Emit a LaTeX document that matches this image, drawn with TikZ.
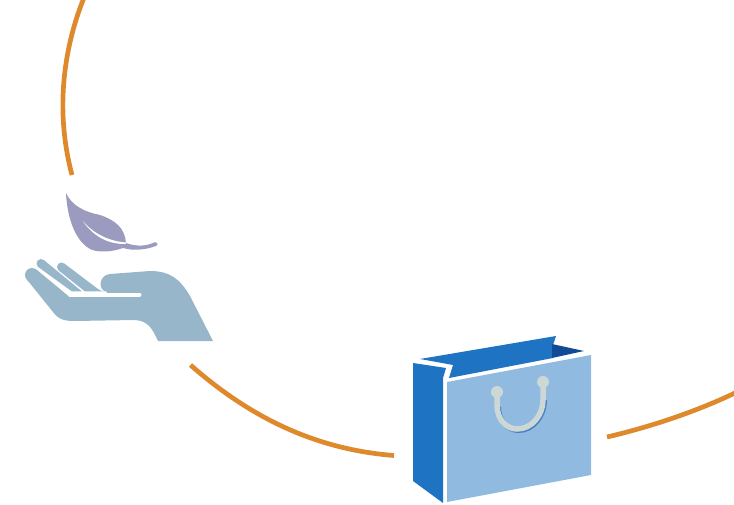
\documentclass[tikz,border=0pt]{standalone}
\definecolor{arc}{HTML}{DE8A2C}
\definecolor{handc}{HTML}{98B6C9}
\definecolor{leafc}{HTML}{9B9ABF}
\definecolor{bagdark}{HTML}{1E73C2}
\definecolor{bagdeep}{HTML}{134A96}
\definecolor{baglight}{HTML}{90BAE0}
\definecolor{handle}{HTML}{CDD8D6}
\definecolor{handleshade}{HTML}{4A80C4}
\tikzset{arcline/.style={draw=arc,line width=4.7pt}}
\begin{document}
\begin{tikzpicture}[x=1pt,y=-1pt]
\useasboundingbox (0,0) rectangle (734,505);
\draw[arcline] (83.5,-1) .. controls (69,35) and (52,100) .. (72,175);
\draw[arcline] (190.5,365) .. controls (245,413) and (310,449) .. (394,455.5);
\draw[arcline] (607,437) .. controls (650,427) and (695,412) .. (735,393);
% hand
\fill[handc] (213,341) -- (190,296) .. controls (180,279) and (170,271) .. (150,271)
 -- (110,274) .. controls (99,275) and (97,290) .. (107,292) -- (107,295) -- (69,296.5)
 -- (36.6,269.7) -- (27.4,280.2)
 -- (53,312) .. controls (59,320) and (65,321) .. (75,321) -- (135,320) .. controls (148,321) and (152,328) .. (158,341) -- cycle;
\fill[handc] (32,275) circle (7);
\fill[handc] (43.9,260.1) -- (82,291.5) -- (72,291.5) -- (38.1,266.9) -- cycle;
\fill[handc] (41,263.5) circle (4.5);
\fill[handc] (64.4,263.6) -- (98,289) .. controls (100,291) and (102,291) .. (105,291.5) -- (85,291.5) -- (58.6,270.4) -- cycle;
\fill[handc] (61.5,267) circle (4.5);
\draw[white,line width=4pt,line cap=round] (70,294.7) -- (139.5,294.7);
% leaf
\fill[leafc] (66,193) .. controls (72,206) and (85,212) .. (100,215) .. controls (115,220) and (125,228) .. (126,243)
 .. controls (137,247) and (147,246) .. (154,242.5) .. controls (157,241.5) and (159,245) .. (156,246)
 .. controls (145,250) and (133,251) .. (123,248) .. controls (112,252) and (98,253) .. (90,249)
 .. controls (74,240) and (67,215) .. (66,193) -- cycle;
\fill[white] (83,221) .. controls (90,230) and (105,241) .. (126,242.5) -- (126,244) .. controls (107,244.5) and (92,235) .. (83,221) -- cycle;
% bag
\fill[bagdark] (413,363) -- (446,368) -- (443,378) -- (443,503) -- (413,481) -- cycle;
\fill[bagdark] (420,359) -- (556,336) -- (553,345) -- (553,358) -- (449,378) -- (453,365) -- cycle;
\fill[bagdeep] (552,344) -- (584,351) -- (552,358) -- cycle;
\fill[baglight] (447,382) -- (591,355) -- (591,475) -- (447,502) -- cycle;
\draw[handleshade,line width=5pt] (498.5,407) .. controls (498.5,421) and (508.5,430.5) .. (518.5,430.5) .. controls (533.5,430.5) and (544.5,416) .. (544.5,400);
\draw[handle,line width=5.5pt] (497,392) -- (497,405) .. controls (497,420) and (507,429) .. (517,429) .. controls (532,429) and (543,415) .. (543,400) -- (543,382);
\fill[handle] (497,392) circle (6);
\fill[handle] (543,382) circle (6);
\end{tikzpicture}
\end{document}
